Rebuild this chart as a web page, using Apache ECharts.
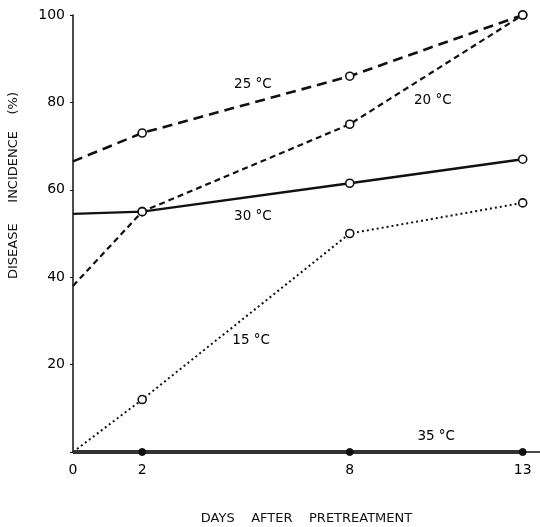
<!DOCTYPE html>
<html>
<head>
<meta charset="utf-8">
<script src="https://cdn.jsdelivr.net/npm/echarts@6/dist/echarts.min.js"></script>
<style>
  html, body { margin: 0; padding: 0; background: #fff; }
  #chart { width: 540px; height: 527px; }
</style>
</head>
<body>
<div id="chart"></div>
<script>
// days after pretreatment
const days = [0, 2, 8, 13];
const xTickLabels = [0, 2, 8, 13];

// disease incidence (%) per temperature
const t25 = [66.5, 73, 86, 100];
const t20 = [38, 55, 75, 100];
const t30 = [54.5, 55, 61.5, 67];
const t15 = [0, 12, 50, 57];
const t35 = [0, 0, 0, 0];

// curve labels, placed in data coordinates [day, %]
const curveLabels = {
  '25 °C': [5.2, 84],
  '20 °C': [10.4, 80.5],
  '30 °C': [5.2, 54],
  '15 °C': [5.15, 25.5],
  '35 °C': [10.5, 3.5]
};

const fontFamily = '"DejaVu Sans", sans-serif';

function pts(vals) {
  return days.map((d, i) => {
    if (i === 0) return { value: [d, vals[i]], symbol: 'none' };
    return [d, vals[i]];
  });
}

function labelMark(name) {
  return {
    symbol: 'circle',
    symbolSize: 0,
    silent: true,
    label: { show: true, position: 'inside', color: '#000', fontSize: 13.5, fontFamily: fontFamily, formatter: name },
    data: [{ coord: curveLabels[name] }]
  };
}

function openLine(name, vals, type, width) {
  return {
    name: name,
    type: 'line',
    data: pts(vals),
    symbol: 'circle',
    symbolSize: 8,
    showAllSymbol: true,
    z: 3,
    itemStyle: { color: '#fff', borderColor: '#111', borderWidth: 1.6 },
    lineStyle: { color: '#111', width: width, type: type },
    markPoint: labelMark(name),
    animation: false
  };
}

const chart = echarts.init(document.getElementById('chart'));
chart.setOption({
  backgroundColor: '#fff',
  animation: false,
  grid: { left: 73, right: 0, top: 15, bottom: 75, containLabel: false, outerBoundsMode: 'none' },
  xAxis: {
    type: 'value',
    min: 0,
    max: 13.5,
    name: 'DAYS    AFTER    PRETREATMENT',
    nameLocation: 'middle',
    nameGap: 60,
    nameTextStyle: { color: '#111', fontSize: 13, fontFamily: fontFamily },
    axisLine: { show: true, lineStyle: { color: '#111', width: 1.5 } },
    axisTick: { show: false },
    splitLine: { show: false },
    axisLabel: {
      customValues: xTickLabels,
      color: '#000', fontSize: 14, fontFamily: fontFamily, margin: 11
    }
  },
  yAxis: {
    type: 'value',
    min: 0,
    max: 100,
    interval: 20,
    name: 'DISEASE     INCIDENCE    (%)',
    nameLocation: 'middle',
    nameGap: 53,
    nameTextStyle: { color: '#111', fontSize: 13, fontFamily: fontFamily, padding: [0, 0, 0, 96] },
    axisLine: { show: true, lineStyle: { color: '#111', width: 1.5 } },
    axisTick: { show: true, length: 3, lineStyle: { color: '#111' } },
    splitLine: { show: false },
    axisLabel: {
      color: '#000', fontSize: 14, fontFamily: fontFamily, margin: 8,
      formatter: v => (v === 0 ? '' : String(v))
    }
  },
  series: [
    openLine('25 °C', t25, [10, 6], 2.6),
    openLine('20 °C', t20, [6, 4], 2.2),
    openLine('30 °C', t30, 'solid', 2.4),
    openLine('15 °C', t15, [2, 3], 2),
    {
      name: '35 °C',
      type: 'line',
      data: pts(t35),
      symbol: 'circle',
      symbolSize: 7,
      showAllSymbol: true,
      z: 4,
      itemStyle: { color: '#111', borderColor: '#111' },
      lineStyle: { color: '#333', width: 4 },
      markPoint: labelMark('35 °C'),
      animation: false
    }
  ]
});
</script>
</body>
</html>
